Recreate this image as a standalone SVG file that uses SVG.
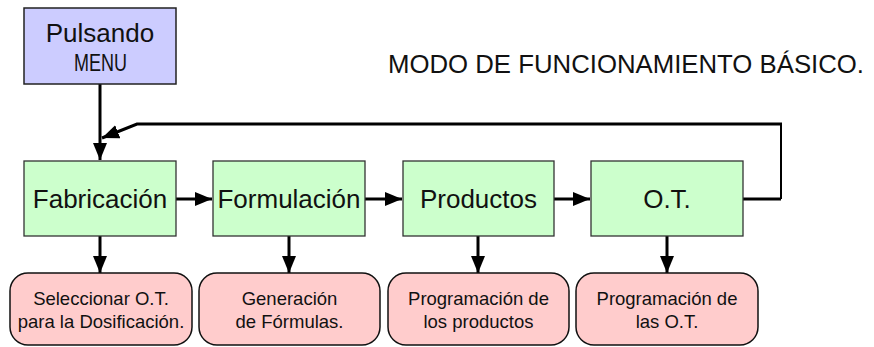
<svg xmlns="http://www.w3.org/2000/svg" width="874" height="347" viewBox="0 0 874 347">
<style>
.t{font-family:"Liberation Sans",Arial,sans-serif;fill:#111;text-anchor:middle}
.big{font-size:26px}
.sm{font-size:18.5px}
.menu{fill:#ccccff;stroke:#222;stroke-width:1.5}
.sec{fill:#ccffcc;stroke:#333;stroke-width:1.3}
.act{fill:#ffcccc;stroke:#111;stroke-width:1.5}
.c{fill:none;stroke:#000;stroke-width:3}
</style>
<defs>
<marker id="ah" markerUnits="userSpaceOnUse" markerWidth="17" markerHeight="14" refX="17" refY="7" orient="auto" viewBox="0 0 17 14">
<path d="M0,0 L17,7 L0,14 z" fill="#000"/>
</marker>
</defs>
<text x="388" y="73" font-family="Liberation Sans,Arial,sans-serif" font-size="25" fill="#111" textLength="476" lengthAdjust="spacingAndGlyphs">MODO DE FUNCIONAMIENTO BÁSICO.</text>
<g id="connectors">
<path class="c" d="M100,84 V160" marker-end="url(#ah)"/>
<path class="c" d="M743,199 H781"/>
<path fill="none" stroke="#000" stroke-width="2" d="M781,199 V124"/>
<path class="c" d="M782,124 H137 L102,138" marker-end="url(#ah)"/>
<path class="c" d="M176,199 H212" marker-end="url(#ah)"/>
<path class="c" d="M365,199 H402" marker-end="url(#ah)"/>
<path class="c" d="M554,199 H590" marker-end="url(#ah)"/>
<path class="c" d="M100,236 V273" marker-end="url(#ah)"/>
<path class="c" d="M289,236 V273" marker-end="url(#ah)"/>
<path class="c" d="M478,236 V273" marker-end="url(#ah)"/>
<path class="c" d="M667,236 V273" marker-end="url(#ah)"/>
</g>
<g id="pulsando">
<rect class="menu" x="24" y="8" width="152" height="76"/>
<text class="t big" x="100" y="42">Pulsando</text>
<text x="74" y="71" font-family="Liberation Sans,Arial,sans-serif" font-size="23" fill="#111" textLength="53" lengthAdjust="spacingAndGlyphs">MENU</text>
</g>
<g id="fabricacion">
<rect class="sec" x="24" y="161" width="152" height="75"/>
<text class="t big" x="100" y="208">Fabricación</text>
</g>
<g id="formulacion">
<rect class="sec" x="213" y="161" width="152" height="75"/>
<text class="t big" x="289" y="208">Formulación</text>
</g>
<g id="productos">
<rect class="sec" x="403" y="161" width="151" height="75"/>
<text class="t big" x="478.5" y="208">Productos</text>
</g>
<g id="ot">
<rect class="sec" x="591" y="161" width="152" height="75"/>
<text class="t big" x="667" y="208">O.T.</text>
</g>
<g id="seleccionar">
<rect class="act" x="10" y="273" width="182" height="72" rx="18"/>
<text class="t sm" x="101" y="305">Seleccionar O.T.</text>
<text class="t sm" x="101" y="328">para la Dosificación.</text>
</g>
<g id="generacion">
<rect class="act" x="199" y="273" width="181" height="72" rx="18"/>
<text class="t sm" x="289.5" y="305">Generación</text>
<text class="t sm" x="289.5" y="328">de Fórmulas.</text>
</g>
<g id="prog-productos">
<rect class="act" x="388" y="273" width="181" height="72" rx="18"/>
<text class="t sm" x="478.5" y="305">Programación de</text>
<text class="t sm" x="478.5" y="328">los productos</text>
</g>
<g id="prog-ot">
<rect class="act" x="576" y="273" width="182" height="72" rx="18"/>
<text class="t sm" x="667" y="305">Programación de</text>
<text class="t sm" x="667" y="328">las O.T.</text>
</g>
</svg>
